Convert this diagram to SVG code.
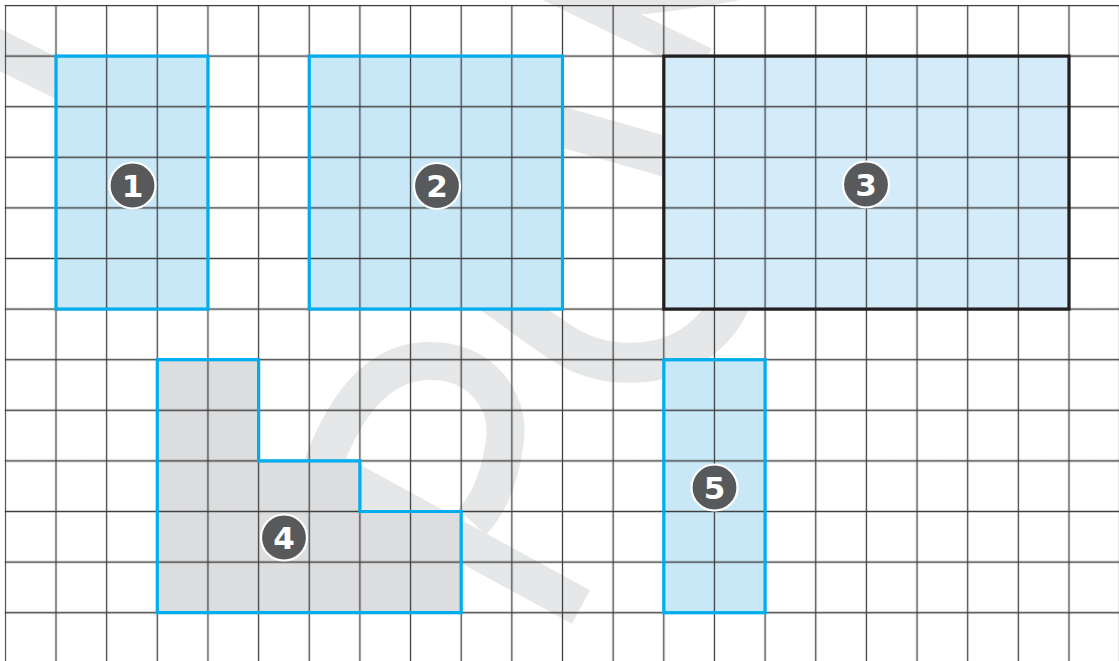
<svg xmlns="http://www.w3.org/2000/svg" width="1119" height="661" viewBox="0 0 1119 661">
  <style>
    .wm { fill: none; stroke: #e6e7e8; stroke-linecap: butt; }
    .blue { fill: #c8e8f8; }
    .light { fill: #d4ecfa; }
    .gray { fill: #dcdddf; }
    .grid { fill: url(#grid); }
    .bb { fill: none; stroke: #00aeef; stroke-width: 3.2; stroke-linejoin: miter; }
    .kb { fill: none; stroke: #231f20; stroke-width: 3.2; stroke-linejoin: miter; }
    .badge circle { fill: #58595b; stroke: #ffffff; stroke-width: 2.2; }
    .badge text { fill: #ffffff; font-family: "DejaVu Sans", "Liberation Sans", sans-serif; font-weight: bold; font-size: 31px; text-anchor: middle; }
  </style>
  <defs>
    <pattern id="grid" patternUnits="userSpaceOnUse" x="-19.975" y="-19.8" width="50.65" height="50.6">
      <path d="M25.325 0V50.6M0 25.3H50.65" stroke="#404040" stroke-width="1.3" fill="none"/>
    </pattern>
  </defs>

  <rect x="0" y="0" width="1119" height="661" fill="#ffffff"/>

  <g id="watermark">
    <path class="wm" stroke-width="38" d="M-20 40 L125 112"/>
    <path class="wm" stroke-width="30" d="M548 -14 L705 62"/>
    <path d="M600 0 L740 0 Q690 10 625 16 Z" fill="#e6e7e8"/>
    <path class="wm" stroke-width="40" d="M520 115 L660 155 C740 178 770 285 700 340 C665 368 605 372 560 342 C530 322 500 298 460 272"/>
    <path class="wm" stroke-width="38" d="M298 570 C312 470 350 363 427 361 C480 359 510 400 505 440 C500 480 488 505 472 522"/>
    <path class="wm" stroke-width="38" d="M330 470 L581 607"/>
  </g>

  <rect id="grid-bg" x="4.7" y="4.85" width="1114.3" height="656.15" class="grid"/>

  <g id="node1">
    <rect class="blue" x="56" y="56.1" width="151.95" height="253"/>
    <rect class="grid" x="56" y="56.1" width="151.95" height="253"/>
    <rect class="bb" x="56" y="56.1" width="151.95" height="253"/>
    <g class="badge"><circle cx="132.5" cy="185.5" r="23"/><text x="132.5" y="196.5">1</text></g>
  </g>

  <g id="node2">
    <rect class="blue" x="309.25" y="56.1" width="253.25" height="253"/>
    <rect class="grid" x="309.25" y="56.1" width="253.25" height="253"/>
    <rect class="bb" x="309.25" y="56.1" width="253.25" height="253"/>
    <g class="badge"><circle cx="437" cy="186" r="23"/><text x="437" y="197">2</text></g>
  </g>

  <g id="node3">
    <rect class="light" x="663.8" y="56.1" width="405.2" height="253"/>
    <rect class="grid" x="663.8" y="56.1" width="405.2" height="253"/>
    <rect class="kb" x="663.8" y="56.1" width="405.2" height="253"/>
    <g class="badge"><circle cx="866" cy="184.5" r="23"/><text x="866" y="195.5">3</text></g>
  </g>

  <g id="node4">
    <path class="gray" d="M157.3 359.7H258.6V460.9H359.9V511.5H461.2V612.7H157.3Z"/>
    <path class="grid" d="M157.3 359.7H258.6V460.9H359.9V511.5H461.2V612.7H157.3Z"/>
    <path class="bb" d="M157.3 359.7H258.6V460.9H359.9V511.5H461.2V612.7H157.3Z"/>
    <g class="badge"><circle cx="284" cy="537.5" r="23"/><text x="284" y="548.5">4</text></g>
  </g>

  <g id="node5">
    <rect class="blue" x="663.8" y="359.7" width="101.3" height="253"/>
    <rect class="grid" x="663.8" y="359.7" width="101.3" height="253"/>
    <rect class="bb" x="663.8" y="359.7" width="101.3" height="253"/>
    <g class="badge"><circle cx="714.5" cy="487.5" r="23"/><text x="714.5" y="498.5">5</text></g>
  </g>
</svg>
